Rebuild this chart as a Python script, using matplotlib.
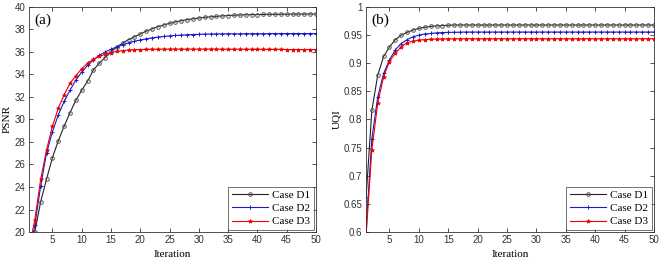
import numpy as np
import matplotlib
matplotlib.use('Agg')
import matplotlib.pyplot as plt
from matplotlib.ticker import FuncFormatter

plt.rcParams['font.family'] = ['Liberation Serif', 'DejaVu Serif']

iterations = list(range(1, 51))

# PSNR per iteration
psnr_d1 = [17.8, 20.0, 22.7, 24.7, 26.6, 28.1, 29.4, 30.6, 31.7, 32.6,
           33.4, 34.4, 35.0, 35.5, 36.0, 36.45, 36.8, 37.1, 37.35, 37.6,
           37.85, 38.05, 38.25, 38.4, 38.55, 38.68, 38.78, 38.87, 38.95, 39.02,
           39.08, 39.13, 39.17, 39.21, 39.24, 39.27, 39.29, 39.31, 39.32, 39.33,
           39.34, 39.35, 39.35, 39.36, 39.36, 39.37, 39.37, 39.37, 39.38, 39.38]
psnr_d2 = [18.0, 20.6, 24.1, 27.0, 28.9, 30.4, 31.6, 32.6, 33.5, 34.2,
           34.8, 35.3, 35.7, 36.0, 36.25, 36.45, 36.65, 36.8, 36.95, 37.07,
           37.17, 37.25, 37.32, 37.38, 37.43, 37.47, 37.5, 37.53, 37.55, 37.57,
           37.59, 37.6, 37.61, 37.61, 37.62, 37.62, 37.62, 37.63, 37.63, 37.63,
           37.63, 37.63, 37.64, 37.64, 37.64, 37.64, 37.64, 37.64, 37.64, 37.64]
psnr_d3 = [18.5, 21.1, 24.7, 27.3, 29.4, 31.0, 32.2, 33.2, 33.9, 34.5,
           35.0, 35.35, 35.6, 35.8, 35.95, 36.05, 36.12, 36.17, 36.2, 36.22,
           36.23, 36.24, 36.24, 36.25, 36.25, 36.25, 36.25, 36.25, 36.25, 36.25,
           36.25, 36.25, 36.25, 36.24, 36.24, 36.24, 36.24, 36.24, 36.23, 36.23,
           36.23, 36.23, 36.23, 36.23, 36.22, 36.22, 36.22, 36.22, 36.22, 36.22]

# UQI per iteration
uqi_d1 = [0.658, 0.816, 0.879, 0.912, 0.929, 0.942, 0.950, 0.955, 0.959, 0.962,
          0.964, 0.9655, 0.9665, 0.967, 0.9675, 0.968, 0.968, 0.968, 0.968, 0.968,
          0.968, 0.968, 0.968, 0.968, 0.968, 0.968, 0.968, 0.968, 0.968, 0.968,
          0.968, 0.968, 0.968, 0.968, 0.968, 0.968, 0.968, 0.968, 0.968, 0.968,
          0.968, 0.968, 0.968, 0.968, 0.968, 0.968, 0.968, 0.968, 0.968, 0.968]
uqi_d2 = [0.600, 0.766, 0.840, 0.882, 0.906, 0.924, 0.935, 0.942, 0.947, 0.950,
          0.952, 0.953, 0.954, 0.9545, 0.955, 0.955, 0.9553, 0.9555, 0.9555, 0.9555,
          0.9555, 0.9555, 0.9555, 0.9555, 0.9555, 0.9555, 0.9555, 0.9555, 0.9555, 0.9555,
          0.9555, 0.9555, 0.9555, 0.9555, 0.9555, 0.9555, 0.9555, 0.9555, 0.9555, 0.9555,
          0.9555, 0.9555, 0.9555, 0.9555, 0.9555, 0.9555, 0.9555, 0.9555, 0.9555, 0.9555]
uqi_d3 = [0.590, 0.746, 0.829, 0.876, 0.903, 0.918, 0.929, 0.9366, 0.939, 0.941,
          0.942, 0.9425, 0.943, 0.943, 0.9433, 0.9435, 0.9435, 0.9435, 0.9435, 0.9435,
          0.9435, 0.9435, 0.9435, 0.9435, 0.9435, 0.9435, 0.9435, 0.9435, 0.9435, 0.9435,
          0.9435, 0.9435, 0.9435, 0.9435, 0.9435, 0.9435, 0.9435, 0.9435, 0.9435, 0.9435,
          0.9435, 0.9435, 0.9435, 0.9435, 0.9435, 0.9435, 0.9435, 0.9435, 0.9435, 0.9435]

case_labels = ['Case D1', 'Case D2', 'Case D3']
xticks = [5, 10, 15, 20, 25, 30, 35, 40, 45, 50]
psnr_ticks = [20, 22, 24, 26, 28, 30, 32, 34, 36, 38, 40]
uqi_ticks = [0.6, 0.65, 0.7, 0.75, 0.8, 0.85, 0.9, 0.95, 1.0]

fig = plt.figure(figsize=(6.6, 2.62), dpi=100)
ax1 = fig.add_axes([0.0439, 0.1145, 0.4348, 0.8588])
ax2 = fig.add_axes([0.5545, 0.1145, 0.4364, 0.8588])

styles = [dict(color='#222222', marker='o', markersize=2.6, markerfacecolor='none',
               markeredgecolor='#555555', markeredgewidth=0.7),
          dict(color='#1a1acc', marker='+', markersize=3.5, markeredgewidth=0.7),
          dict(color='#ee0000', marker='*', markersize=3.0, markeredgewidth=0.5)]

for ax, series, ylab, yt, ylim, tag in [
        (ax1, [psnr_d1, psnr_d2, psnr_d3], 'PSNR', psnr_ticks, (20, 40), '(a)'),
        (ax2, [uqi_d1, uqi_d2, uqi_d3], 'UQI', uqi_ticks, (0.6, 1.0), '(b)')]:
    for s, st, lab in zip(series, styles, case_labels):
        ax.plot(iterations, s, linewidth=0.8, label=lab, **st)
    ax.set_xlim(1, 50)
    ax.set_ylim(*ylim)
    ax.set_xticks(xticks)
    ax.set_yticks(yt)
    ax.yaxis.set_major_formatter(FuncFormatter(lambda v, p: '%g' % round(v, 4)))
    ax.tick_params(direction='in', top=True, right=True, labelsize=7,
                   length=3, width=0.6, pad=2.5, colors='#333333')
    for lbl in ax.get_xticklabels() + ax.get_yticklabels():
        lbl.set_fontfamily('Liberation Sans')
    for sp in ax.spines.values():
        sp.set_linewidth(0.6)
        sp.set_color('#333333')
    ax.set_xlabel('Iteration', fontsize=8, labelpad=3)
    ax.set_ylabel(ylab, fontsize=8, labelpad=2)
    ax.text(0.02, 0.97, tag, transform=ax.transAxes, fontsize=11,
            va='top', ha='left')
    leg = ax.legend(loc='lower right', fontsize=8, frameon=True, fancybox=False,
                    edgecolor='#333333', borderpad=0.35, labelspacing=0.3,
                    handlelength=3.2, handletextpad=0.4, borderaxespad=0.15)
    leg.get_frame().set_linewidth(0.6)

fig.savefig('out.png', dpi=100)
